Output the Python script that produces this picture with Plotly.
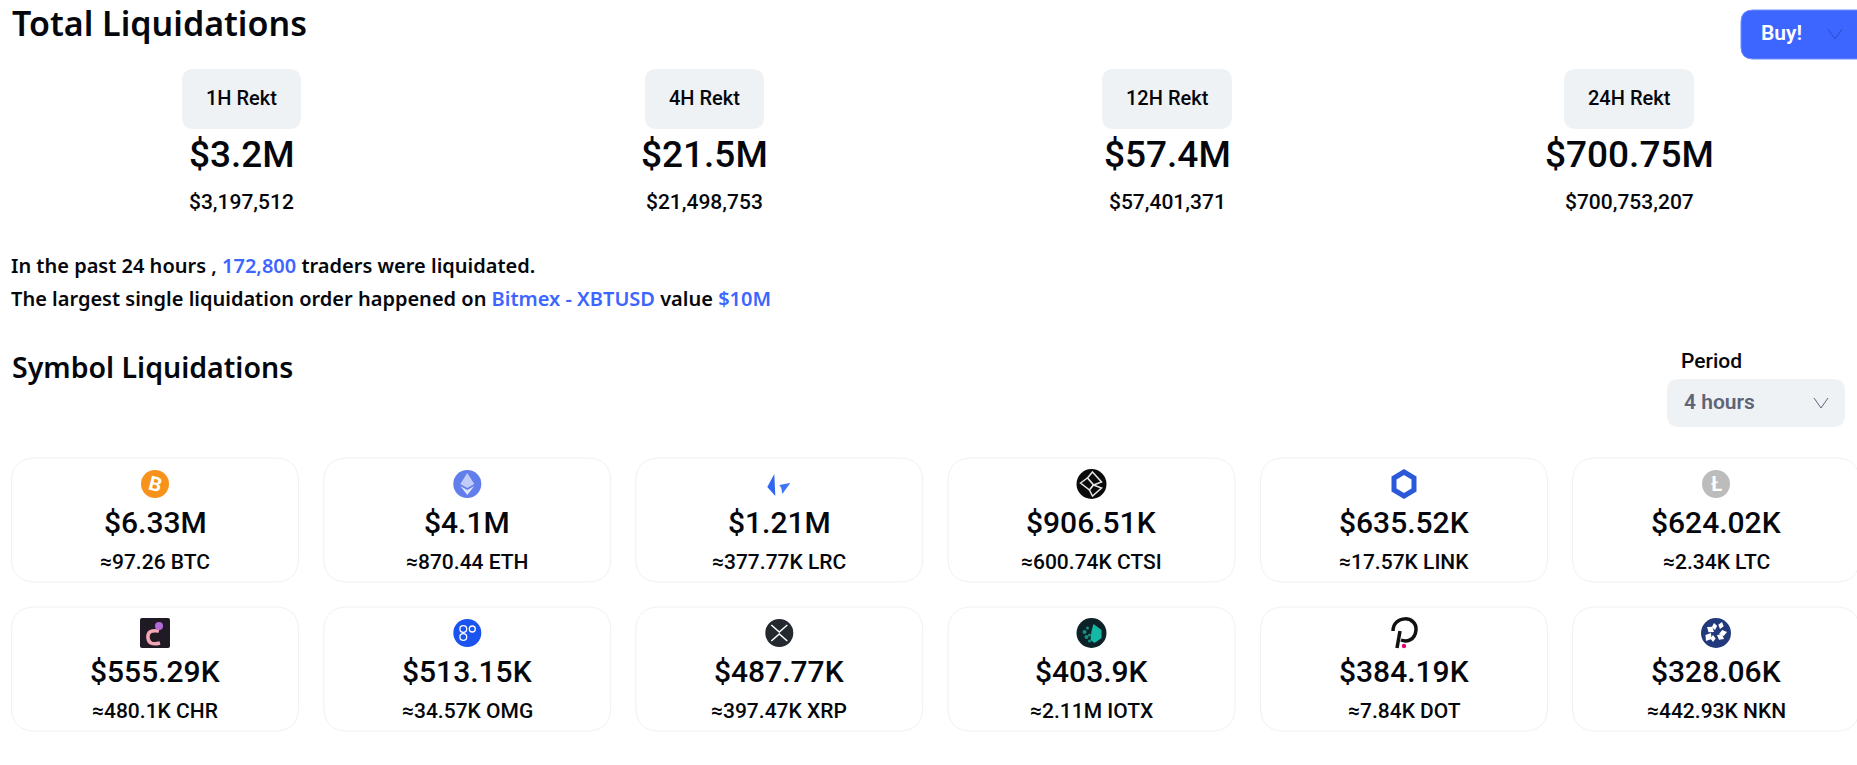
import plotly.graph_objects as go

# page size
W, H = 1857, 765

# top summary
period_labels = ["1H Rekt", "4H Rekt", "12H Rekt", "24H Rekt"]
period_short = ["$3.2M", "$21.5M", "$57.4M", "$700.75M"]
period_full = ["$3,197,512", "$21,498,753", "$57,401,371", "$700,753,207"]

# symbol cards
usd_values = ["$6.33M", "$4.1M", "$1.21M", "$906.51K", "$635.52K", "$624.02K",
              "$555.29K", "$513.15K", "$487.77K", "$403.9K", "$384.19K", "$328.06K"]
coin_amounts = ["≈97.26 BTC", "≈870.44 ETH", "≈377.77K LRC", "≈600.74K CTSI", "≈17.57K LINK", "≈2.34K LTC",
                "≈480.1K CHR", "≈34.57K OMG", "≈397.47K XRP", "≈2.11M IOTX", "≈7.84K DOT", "≈442.93K NKN"]
coins = ["BTC", "ETH", "LRC", "CTSI", "LINK", "LTC", "CHR", "OMG", "XRP", "IOTX", "DOT", "NKN"]

FONT = "Roboto"
BODY = "Noto Sans"
BLUE = "#3d65ff"
INK = "#05070d"
NONE = "rgba(0,0,0,0)"

fig = go.Figure()


def text(x, y, s, size, weight=500, color=INK, anchor="center", angle=0, family=FONT):
    fig.add_annotation(x=x, y=y, text=s, showarrow=False, xanchor=anchor, yanchor="middle", textangle=angle,
                       font=dict(family=family, size=size, color=color, weight=weight))


def rrect(x0, y0, x1, y1, r, fill, line=None, width=1):
    path = (f"M{x0+r},{y0} L{x1-r},{y0} Q{x1},{y0} {x1},{y0+r} L{x1},{y1-r} Q{x1},{y1} {x1-r},{y1} "
            f"L{x0+r},{y1} Q{x0},{y1} {x0},{y1-r} L{x0},{y0+r} Q{x0},{y0} {x0+r},{y0} Z")
    fig.add_shape(type="path", path=path, fillcolor=fill, line=dict(color=line or fill, width=width if line else 0))


def circle(cx, cy, r, fill, line=None, width=1):
    fig.add_shape(type="circle", x0=cx-r, x1=cx+r, y0=cy-r, y1=cy+r, fillcolor=fill,
                  line=dict(color=line or fill, width=width if line else 0))


def poly(cx, cy, pts, fill, line=None, width=1, closed=True):
    path = "M" + " L".join(f"{cx+a},{cy+b}" for a, b in pts) + (" Z" if closed else "")
    fig.add_shape(type="path", path=path, fillcolor=fill if closed else NONE,
                  line=dict(color=line or fill, width=width if line else 0))


def curve(path, color, width):
    fig.add_shape(type="path", path=path, fillcolor=NONE, line=dict(color=color, width=width))


def chevron(cx, cy, color):
    poly(cx, cy, [(-7, -5), (0, 5), (7, -5)], color, line=color, width=1, closed=False)


def leaf(cx, cy, x1, y1, x2, y2):
    # little white petal between two points, for the NKN mark
    dx, dy = (y2 - y1) * 0.38, (x1 - x2) * 0.38
    mx, my = (x1 + x2) / 2, (y1 + y2) / 2
    poly(cx, cy, [(x1, y1), (mx + dx, my + dy), (x2, y2), (mx - dx, my - dy)], "#ffffff")


def icon(name, cx, cy):
    if name == "BTC":
        circle(cx, cy, 14, "#f7931a")
        text(cx, cy, "B", 20, 700, "#ffffff", angle=14)
    elif name == "ETH":
        circle(cx, cy, 14, "#627eea")
        poly(cx, cy, [(0, -11), (7, 0), (0, 4), (-7, 0)], "#c1ccf7")
        poly(cx, cy, [(0, 6), (7, 2), (0, 11), (-7, 2)], "#dfe5fb")
    elif name == "LRC":
        poly(cx, cy, [(-5, -10), (-4, 12), (-12, 3)], "#2f66f2")
        poly(cx, cy, [(0, 1), (11, -1), (3, 10), (2, 4)], "#3d75f5")
    elif name == "CTSI":
        circle(cx, cy, 15, "#0a0a0a")
        poly(cx, cy, [(1, -12), (10, -2), (2, 1), (-4, -6)], "#0a0a0a", line="#e4e4e4", width=1.5)
        poly(cx, cy, [(-11, -1), (-4, -6), (2, 1), (-2, 6)], "#0a0a0a", line="#e4e4e4", width=1.5)
        poly(cx, cy, [(2, 1), (10, 4), (1, 12), (-2, 6)], "#0a0a0a", line="#e4e4e4", width=1.5)
    elif name == "LINK":
        poly(cx, cy, [(0, -12), (10, -6), (10, 6), (0, 12), (-10, 6), (-10, -6)], "#ffffff", line="#2a5ada", width=5)
    elif name == "LTC":
        circle(cx, cy, 14, "#bcbcbc")
        text(cx, cy, "Ł", 20, 700, "#ffffff")
    elif name == "CHR":
        rrect(cx-15, cy-15, cx+15, cy+15, 2, "#1f1a24")
        curve(f"M{cx+4},{cy-2} Q{cx-8},{cy-4} {cx-7},{cy+5} Q{cx-6},{cy+13} {cx+5},{cy+10}", "#f3a7b5", 3.5)
        circle(cx+4, cy-7, 4, "#b66ad8")
    elif name == "OMG":
        circle(cx, cy, 14, "#1a53f0")
        circle(cx-4, cy-4, 3.4, NONE, line="#ffffff", width=1.3)
        circle(cx+5, cy-4, 3, NONE, line="#ffffff", width=1.3)
        circle(cx-4, cy+4, 3.4, NONE, line="#ffffff", width=1.3)
    elif name == "XRP":
        circle(cx, cy, 14, "#23292f")
        poly(cx, cy, [(-8, -8), (0, -1), (8, -8)], "#fff", line="#ffffff", width=1.5, closed=False)
        poly(cx, cy, [(-8, 8), (0, 1), (8, 8)], "#fff", line="#ffffff", width=1.5, closed=False)
    elif name == "IOTX":
        circle(cx, cy, 15, "#0c2228")
        poly(cx, cy, [(2, -9), (10, -3), (10, 5), (3, 10), (-1, 7), (0, -2)], "#14b9a5")
        for a, b, r in [(-7, -1, 2), (-4, -5, 1.5), (-5, 4, 2), (-2, 2, 1.5), (-2, 8, 1.5)]:
            circle(cx+a, cy+b, r, "#12927f")
    elif name == "DOT":
        curve(f"M{cx-7},{cy+15} L{cx-4},{cy-2}", "#111111", 3.5)
        curve(f"M{cx-11},{cy-2} C{cx-11},{cy-18} {cx+13},{cy-18} {cx+12},{cy-3} "
              f"C{cx+11},{cy+8} {cx+2},{cy+9} {cx-3},{cy+7}", "#111111", 3.5)
        circle(cx, cy+13, 2.2, "#e6007a")
    elif name == "NKN":
        circle(cx, cy, 15, "#22397c")
        for seg in [(-2, -10, -1, -3), (6, -11, 4, -4), (-9, -6, -2, -1), (-10, 8, -5, 0),
                    (-3, 9, -3, 2), (8, 6, 1, 2), (11, -1, 3, 1)]:
            leaf(cx, cy, *seg)


# heading
text(10, 23, "Total Liquidations", 34, 600, anchor="left", family=BODY)

# buy button, runs off the right edge
rrect(1741, 10, 1870, 59, 12, BLUE, line="#6f8dff", width=1)
text(1781, 33, "Buy!", 21, 600, "#ffffff")
chevron(1835, 34, "#2a4bc0")

# summary columns
pill_left = [182, 645, 1102, 1564]
pill_right = [301, 764, 1232, 1694]
for i, label in enumerate(period_labels):
    cx = (pill_left[i] + pill_right[i]) / 2
    rrect(pill_left[i], 69, pill_right[i], 129, 12, "#eff2f5")
    text(cx, 97.5, label, 20)
    text(cx, 154, period_short[i], 37)
    text(cx, 202, period_full[i], 21)

# sentences
text(9, 265.5, f'In the past 24 hours , <span style="color:{BLUE}">172,800</span> traders were liquidated.', 20, 600,
     anchor="left", family=BODY)
text(9, 298.5, f'The largest single liquidation order happened on <span style="color:{BLUE}">Bitmex - XBTUSD</span> value '
               f'<span style="color:{BLUE}">$10M</span>', 20, 600, anchor="left", family=BODY)

# section head and period select
text(10, 367, "Symbol Liquidations", 28.5, 600, anchor="left", family=BODY)
text(1679, 361, "Period", 21, anchor="left")
rrect(1667, 379, 1845, 427, 12, "#eff2f5")
text(1682, 401.5, "4 hours", 21, 600, "#5e6577", anchor="left")
chevron(1821, 403, "#5e6577")

# symbol cards, two rows of six
card_x = [11.5, 323.8, 635.8, 948, 1260.5, 1572.5]
card_w = 287
card_y = [458, 607]
card_h = 124
for i, name in enumerate(coins):
    row, col = divmod(i, 6)
    x0, y0 = card_x[col], card_y[row]
    cx = x0 + card_w / 2
    rrect(x0, y0, x0 + card_w, y0 + card_h, 24, "#ffffff", line="#f0f1f3", width=1)
    icon(name, cx, y0 + 26)
    text(cx, y0 + 64, usd_values[i], 30)
    text(cx, y0 + 104, coin_amounts[i], 21)

fig.update_layout(
    width=W, height=H, autosize=False,
    margin=dict(l=0, r=0, t=0, b=0),
    paper_bgcolor="#ffffff", plot_bgcolor="#ffffff",
    showlegend=False,
    xaxis=dict(range=[0, W], visible=False, fixedrange=True),
    yaxis=dict(range=[H, 0], visible=False, fixedrange=True),
)
# page default margin would push the figure 8px in
fig.write_html("out.html", config={"displayModeBar": False}, post_script="document.body.style.margin='0';")
